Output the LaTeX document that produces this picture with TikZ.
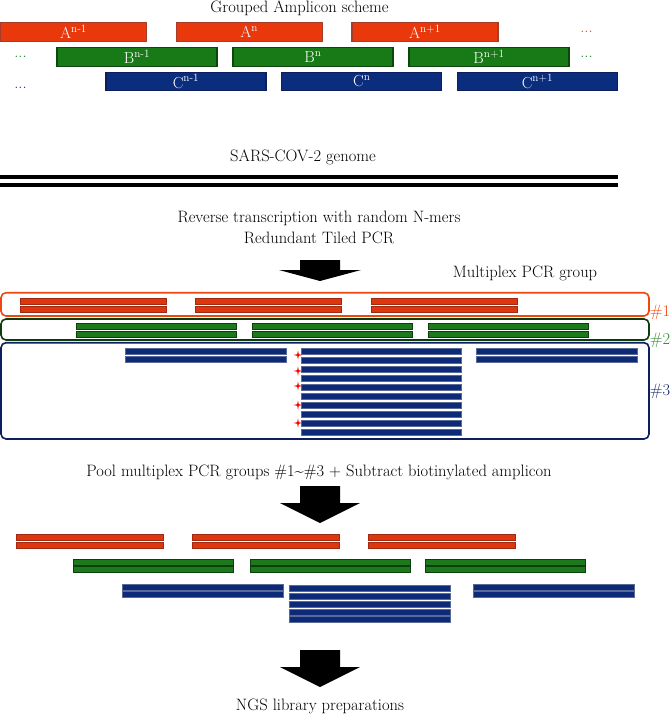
\documentclass[tikz,border=0pt]{standalone}
\usepackage{tikz}
\usetikzlibrary{positioning}

\definecolor{ampred}{HTML}{E8380C}
\definecolor{ampredd}{HTML}{A83C2C}
\definecolor{ampgreen}{HTML}{177A17}
\definecolor{ampgreend}{HTML}{0C460C}
\definecolor{ampblue}{HTML}{0B2D7E}
\definecolor{ampblued}{HTML}{0A1F5C}
\definecolor{barred}{HTML}{E0360E}
\definecolor{barredd}{HTML}{9E2A14}
\definecolor{bargreen}{HTML}{1C7A1C}
\definecolor{bargreend}{HTML}{0B3F0B}
\definecolor{barblue}{HTML}{0C2A78}
\definecolor{barblued}{HTML}{5A6A96}
\definecolor{grpred}{HTML}{F0460F}
\definecolor{grpgreen}{HTML}{0D3D0D}
\definecolor{grpblue}{HTML}{0D1F5E}
\definecolor{lblgreen}{HTML}{2E8B2E}
\definecolor{lblblue}{HTML}{1A2A6A}

\begin{document}
\begin{tikzpicture}[x=1pt, y=-1pt,
    txt/.style={font=\fontsize{16.5}{19}\selectfont, inner sep=0pt, anchor=base},
    ampbox/.style={rectangle, draw, line width=1.2pt, minimum height=18.6pt, inner sep=0pt,
        text=white, font=\fontsize{16}{18}\selectfont},
    abox/.style={ampbox, fill=ampred, draw=ampredd, minimum width=146pt},
    bbox/.style={ampbox, fill=ampgreen, draw=ampgreend, minimum width=160pt},
    cbox/.style={ampbox, fill=ampblue, draw=ampblued, minimum width=160pt},
    rbar/.style={fill=barred, draw=barredd, line width=1pt},
    gbar/.style={fill=bargreen, draw=bargreend, line width=1pt},
    bbar/.style={fill=barblue, draw=barblued, line width=1pt},
    grp/.style={rounded corners=5pt, line width=1.6pt}]
    \useasboundingbox (0,0) rectangle (669,714);

    % grouped amplicon scheme
    \node[txt] (title) at (299.5,13) {Grouped Amplicon scheme};
    \foreach \s [count=\i] in {n-1,n,n+1}{
        \node[abox] (a\i) at ({73.5+175.7*(\i-1)},32) {A\textsuperscript{\s}};
        \node[bbox] (b\i) at ({137+176*(\i-1)},57) {B\textsuperscript{\s}};
        \node[cbox] (c\i) at ({186+175.7*(\i-1)},81.5) {C\textsuperscript{\s}};
    }
    \node[txt, text=ampred] (rdots) at (586.5,32.5) {...};
    \node[txt, text=ampgreen] (gdotsl) at (20.5,58) {...};
    \node[txt, text=ampgreen] (gdotsr) at (586.5,58) {...};
    \node[txt, text=ampblue] (bdotsl) at (20.5,89) {...};

    % genome
    \node[txt] (genome) at (303,161.5) {SARS-COV-2 genome};
    \draw[line width=4pt] (0,176.7) -- (618,176.7);
    \draw[line width=4pt] (0,185) -- (618,185);

    \node[txt] (rt) at (319,222.5) {Reverse transcription with random N-mers};
    \node[txt] (tiled) at (319,243.3) {Redundant Tiled PCR};
    \fill (300,260) -- (340,260) -- (340,270) -- (361,270) -- (320,281) -- (279,270) -- (300,270) -- cycle;
    \node[txt] (mpx) at (525,277.3) {Multiplex PCR group};

    % multiplex groups
    \draw[grp, draw=grpred] (1,292.7) rectangle (649,316);
    \draw[grp, draw=grpgreen] (1,319) rectangle (649,340);
    \draw[grp, draw=grpblue] (1,342.7) rectangle (649,439);
    \node[txt, text=grpred] (g1) at (660,316) {\#1};
    \node[txt, text=lblgreen] (g2) at (660,344) {\#2};
    \node[txt, text=lblblue] (g3) at (660,395) {\#3};

    \foreach \x in {20,195,371}{
        \draw[rbar] (\x,298.3) rectangle ++(146,6);
        \draw[rbar] (\x,306.3) rectangle ++(146,6);
    }
    \foreach \x in {76.5,252,428}{
        \draw[gbar] (\x,323) rectangle ++(160,6);
        \draw[gbar] (\x,331) rectangle ++(160,6);
    }
    \foreach \x in {125,476}{
        \draw[bbar] (\x,348) rectangle ++(161,6.3);
        \draw[bbar] (\x,356) rectangle ++(161,6.3);
    }
    \foreach \k in {0,...,9}
        \draw[bbar] (301,348+9*\k) rectangle ++(160,6.5);
    \foreach \y in {355,371,386,405,423}
        \fill[red] (298,\y) +(-4.5,0) -- +(-0.8,-0.8) -- +(0,-4.5) -- +(0.8,-0.8)
            -- +(4.5,0) -- +(0.8,0.8) -- +(0,4.5) -- +(-0.8,0.8) -- cycle;

    % pooling
    \node[txt] (pool) at (319,476) {Pool multiplex PCR groups \#1\textasciitilde\#3 + Subtract biotinylated amplicon};
    \fill (300,486) -- (340,486) -- (340,503) -- (360,503) -- (320,523) -- (280,503) -- (300,503) -- cycle;
    \foreach \x in {16,192,368}{
        \draw[rbar] (\x,534) rectangle ++(147,6);
        \draw[rbar] (\x,542) rectangle ++(147,6);
    }
    \foreach \x in {73.5,250,425}{
        \draw[gbar] (\x,559) rectangle ++(160,6);
        \draw[gbar] (\x,566) rectangle ++(160,6);
    }
    \foreach \x in {122,473}{
        \draw[bbar] (\x,584) rectangle ++(161,6);
        \draw[bbar] (\x,591) rectangle ++(161,6);
    }
    \foreach \k in {0,...,4}
        \draw[bbar] (289,585.7+7.8*\k) rectangle ++(161,6);

    \fill (300,650) -- (340,650) -- (340,667) -- (360,667) -- (320,687) -- (280,667) -- (300,667) -- cycle;
    \node[txt] (ngs) at (320,710) {NGS library preparations};
\end{tikzpicture}
\end{document}
